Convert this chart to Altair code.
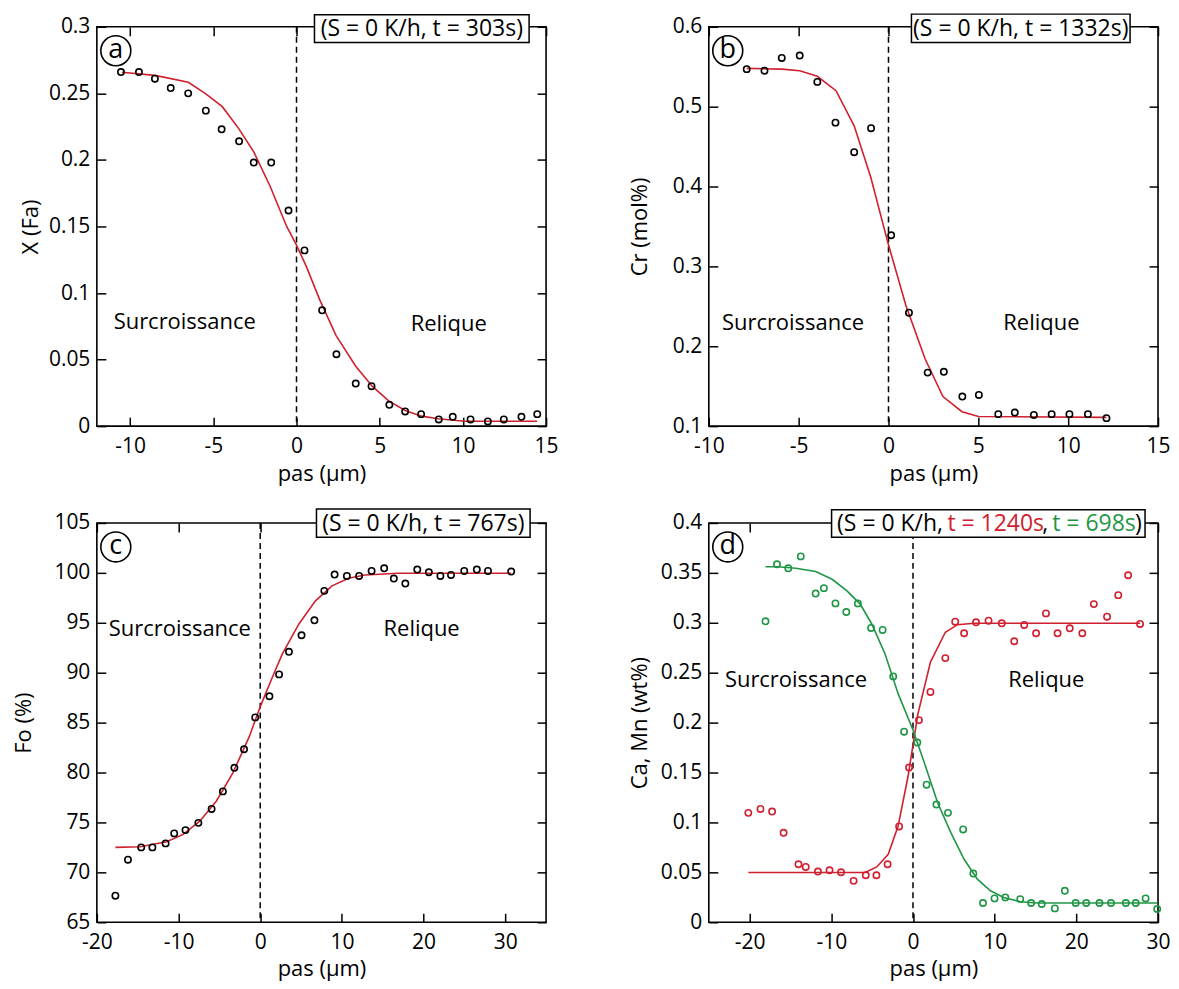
import altair as alt
import pandas as pd

# ---------------- data ----------------
# (a) X (Fa)
a_x = [-10.55, -9.47, -8.51, -7.56, -6.51, -5.45, -4.50, -3.45, -2.57, -1.52, -0.48, 0.48, 1.54,
       2.40, 3.56, 4.51, 5.58, 6.53, 7.49, 8.55, 9.39, 10.46, 11.50, 12.46, 13.52, 14.47]
a_y = [0.266, 0.266, 0.261, 0.254, 0.250, 0.237, 0.223, 0.214, 0.198, 0.198, 0.162, 0.132, 0.087,
       0.054, 0.032, 0.030, 0.016, 0.011, 0.009, 0.005, 0.007, 0.005, 0.0035, 0.005, 0.007, 0.009]
a_fx = [-10.5, -8.5, -6.5, -5.45, -4.46, -3.47, -2.57, -1.58, -0.59, 0.0, 0.59, 1.39, 2.38, 3.56,
        4.55, 5.54, 6.53, 7.52, 8.5, 10.1, 14.46]
a_fy = [0.2658, 0.2635, 0.2583, 0.2496, 0.240, 0.2235, 0.206, 0.180, 0.150, 0.136, 0.120, 0.095,
        0.068, 0.045, 0.030, 0.019, 0.0117, 0.0075, 0.0055, 0.0037, 0.0037]

# (b) Cr (mol%)
b_x = [-7.89, -6.90, -5.94, -4.94, -3.96, -2.95, -1.91, -0.97, 0.15, 1.14, 2.18, 3.08, 4.11, 5.03,
       6.11, 7.03, 8.09, 9.08, 10.07, 11.10, 12.13]
b_y = [0.547, 0.545, 0.561, 0.564, 0.531, 0.480, 0.443, 0.473, 0.339, 0.242, 0.167, 0.168, 0.137,
       0.139, 0.115, 0.117, 0.114, 0.115, 0.115, 0.115, 0.110]
b_fx = [-7.89, -5.94, -4.94, -3.96, -2.92, -1.91, -0.99, 0.0, 0.97, 2.04, 3.03, 4.09, 5.01, 12.13]
b_fy = [0.548, 0.547, 0.545, 0.538, 0.520, 0.476, 0.412, 0.327, 0.251, 0.184, 0.137, 0.118, 0.112, 0.111]

# (c) Fo (%)
c_x = [-17.73, -16.19, -14.57, -13.20, -11.58, -10.53, -9.15, -7.57, -5.95, -4.57, -3.16, -1.98,
       -0.61, 1.13, 2.31, 3.52, 5.06, 6.64, 7.85, 9.11, 10.61, 12.11, 13.64, 15.18, 16.36, 17.77,
       19.23, 20.65, 22.06, 23.36, 24.98, 26.52, 27.89, 30.73]
c_y = [67.66, 71.27, 72.50, 72.50, 72.90, 73.90, 74.23, 74.96, 76.35, 78.11, 80.47, 82.33, 85.52,
       87.64, 89.83, 92.09, 93.75, 95.25, 98.20, 99.83, 99.69, 99.69, 100.19, 100.46, 99.43, 98.93,
       100.33, 100.06, 99.69, 99.79, 100.19, 100.33, 100.19, 100.13]
c_fx = [-17.73, -14.7, -11.46, -9.43, -7.4, -5.38, -3.36, -1.34, 0.0, 1.5, 2.71, 4.74, 6.76, 8.79,
        10.81, 12.83, 16.88, 30.73]
c_fy = [72.50, 72.57, 73.07, 73.80, 75.13, 77.12, 79.94, 83.59, 86.58, 89.57, 91.89, 94.88, 97.20,
        98.70, 99.46, 99.79, 99.96, 99.96]

# (d) Ca, Mn (wt%) - red series (t = 1240s)
dr_x = [-20.16, -18.67, -17.25, -15.84, -14.02, -13.13, -11.64, -10.22, -8.81, -7.27, -5.78, -4.48,
        -3.11, -1.70, -0.48, 0.73, 2.14, 3.96, 5.17, 6.26, 7.72, 9.25, 10.87, 12.40, 13.62, 15.07,
        16.28, 17.70, 19.19, 20.73, 22.14, 23.76, 25.13, 26.34, 27.80]
dr_y = [0.1096, 0.1135, 0.1109, 0.0896, 0.0581, 0.0554, 0.0508, 0.0521, 0.0501, 0.0415, 0.0471,
        0.0471, 0.0581, 0.0960, 0.155, 0.2025, 0.2307, 0.2646, 0.3011, 0.2895, 0.3005, 0.3021,
        0.2995, 0.2815, 0.2978, 0.2895, 0.3094, 0.2895, 0.2945, 0.2895, 0.3187, 0.3061, 0.3277,
        0.3476, 0.2988]
dr_fx = [-20.16, -5.86, -4.44, -3.03, -1.82, -0.61, 0.61, 2.14, 3.96, 5.45, 7.47, 27.8]
dr_fy = [0.0498, 0.0498, 0.0554, 0.068, 0.0963, 0.146, 0.209, 0.2606, 0.2905, 0.2981, 0.2995, 0.2995]

# (d) green series (t = 698s)
dg_x = [-18.06, -16.65, -15.27, -13.74, -11.92, -10.91, -9.49, -8.16, -6.75, -5.13, -3.72, -2.42,
        -1.09, 0.53, 1.66, 2.87, 4.28, 6.14, 7.39, 8.57, 9.98, 11.31, 13.13, 14.46, 15.76, 17.37,
        18.59, 19.92, 21.21, 22.83, 24.24, 26.06, 27.27, 28.48, 29.90]
dg_y = [0.3015, 0.3586, 0.3546, 0.3665, 0.3293, 0.3347, 0.3194, 0.3108, 0.3194, 0.2948, 0.2928,
        0.2463, 0.1909, 0.180, 0.1378, 0.1179, 0.1096, 0.093, 0.0488, 0.0193, 0.0239, 0.0249, 0.0232,
        0.0193, 0.0183, 0.0139, 0.0315, 0.0193, 0.0193, 0.0193, 0.0193, 0.0193, 0.0193, 0.0239, 0.0133]
dg_fx = [-18.06, -16.57, -14.34, -11.92, -9.9, -8.08, -6.46, -5.05, -3.43, -1.82, 0.0, 1.41, 3.03,
         4.65, 6.26, 7.88, 9.49, 11.11, 13.13, 15.15, 29.9]
dg_fy = [0.3562, 0.3562, 0.3546, 0.3513, 0.3436, 0.332, 0.3187, 0.2988, 0.269, 0.229, 0.1926,
         0.1594, 0.1195, 0.0896, 0.0631, 0.0432, 0.0315, 0.0249, 0.0206, 0.0193, 0.0193]

# axis settings
a_xdom, a_xticks = [-12, 15], [-10, -5, 0, 5, 10, 15]
a_ydom, a_yticks = [0, 0.3], [0, 0.05, 0.1, 0.15, 0.2, 0.25, 0.3]
b_xdom, b_xticks = [-10, 15], [-10, -5, 0, 5, 10, 15]
b_ydom, b_yticks = [0.1, 0.6], [0.1, 0.2, 0.3, 0.4, 0.5, 0.6]
c_xdom, c_xticks = [-20, 35], [-20, -10, 0, 10, 20, 30]
c_ydom, c_yticks = [65, 105], [65, 70, 75, 80, 85, 90, 95, 100, 105]
d_xdom, d_xticks = [-25, 30], [-20, -10, 0, 10, 20, 30]
d_ydom, d_yticks = [0, 0.4], [0, 0.05, 0.1, 0.15, 0.2, 0.25, 0.3, 0.35, 0.4]

# region labels (data coords)
a_lab = {"s": (-10.99, 0.078), "r": (9.15, 0.077)}
b_lab = {"s": (-9.27, 0.229), "r": (8.51, 0.229)}
c_lab = {"s": (-18.54, 94.4), "r": (19.76, 94.4)}
d_lab = {"s": (-23.03, 0.243), "r": (16.32, 0.243)}

W, H = 450, 400
FONT = "Open Sans"
RED = "#d0202f"
GREEN = "#1f9646"
BLACK = "#000000"
FS = 22
BFS = 23
LABEL_EXPR = "'' + datum.value"


def inner_axes(xticks, yticks, kind):
    common = dict(labels=False, domain=False, ticks=True, tickSize=9, tickWidth=1.5,
                  tickColor="black", grid=False, title=None)
    if kind == "A":
        return (alt.Axis(orient="top", offset=-H, values=xticks, **common),
                alt.Axis(orient="right", offset=-W, values=yticks, **common))
    return (alt.Axis(orient="bottom", offset=-H, values=xticks, **common),
            alt.Axis(orient="left", offset=-W, values=yticks, **common))


def panel(xdom, xticks, ydom, yticks, ytitle, ytitle_x, xtitle_y, series, lab, letter, box, texts):
    xs = alt.Scale(domain=xdom, nice=False, zero=False)
    ys = alt.Scale(domain=ydom, nice=False, zero=False)
    xa_main = alt.Axis(orient="bottom", values=xticks, ticks=False, tickSize=0, domain=False,
                       labelPadding=9, labelFlush=False, labelOverlap=False, grid=False,
                       labelExpr=LABEL_EXPR,
                       labelFont=FONT, labelFontSize=21, labelColor="black",
                       title="pas (µm)", titleX=W / 2, titleY=xtitle_y, titleAlign="center",
                       titleBaseline="middle", titleFont=FONT, titleFontSize=FS,
                       titleFontWeight="normal", titleColor="black")
    ya_main = alt.Axis(orient="left", values=yticks, ticks=False, tickSize=0,
                       domain=False, labelPadding=7, labelFlush=False, labelOverlap=False,
                       labelExpr=LABEL_EXPR,
                       labelFont=FONT, labelFontSize=21, labelColor="black",
                       grid=False, title=ytitle, titleX=ytitle_x, titleY=H / 2,
                       titleAlign="center", titleBaseline="middle", titleAngle=270,
                       titleFont=FONT, titleFontSize=FS, titleFontWeight="normal",
                       titleColor="black")
    xin1, yin1 = inner_axes(xticks, yticks, "A")
    xin2, yin2 = inner_axes(xticks, yticks, "B")

    layers = []
    # dashed interface line at x = 0
    layers.append(alt.Chart(pd.DataFrame({"x": [0]})).mark_rule(
        color="black", strokeDash=[6, 4], strokeWidth=1.5).encode(
        x=alt.X("x:Q", scale=xs, axis=xin2), y=alt.value(0), y2=alt.value(H)))
    first = True
    for (px, py, fx, fy, col) in series:
        ldf = pd.DataFrame({"x": fx, "y": fy})
        pdf = pd.DataFrame({"x": px, "y": py})
        layers.append(alt.Chart(ldf).mark_line(color=RED if col == BLACK else col,
                                              strokeWidth=1.6).encode(
            x=alt.X("x:Q", scale=xs, axis=xin1 if first else None),
            y=alt.Y("y:Q", scale=ys, axis=yin1 if first else None)))
        layers.append(alt.Chart(pdf).mark_point(shape="circle", filled=False, color=col,
                                               size=40, strokeWidth=1.6, opacity=1).encode(
            x=alt.X("x:Q", scale=xs, axis=xa_main if first else None),
            y=alt.Y("y:Q", scale=ys, axis=ya_main if first else None)))
        first = False
    helper = alt.Chart(pd.DataFrame({"y": [ydom[0]]})).mark_point(opacity=0).encode(
        y=alt.Y("y:Q", scale=ys, axis=yin2), x=alt.value(0))
    layers.append(helper)

    # region labels
    tdf = pd.DataFrame({"x": [lab["s"][0], lab["r"][0]], "y": [lab["s"][1], lab["r"][1]],
                        "t": ["Surcroissance", "Relique"], "al": ["left", "center"]})
    layers.append(alt.Chart(tdf[tdf.al == "left"]).mark_text(
        font=FONT, fontSize=FS, align="left", baseline="middle", color="black").encode(
        x=alt.X("x:Q", scale=xs, axis=None), y=alt.Y("y:Q", scale=ys, axis=None), text="t:N"))
    layers.append(alt.Chart(tdf[tdf.al == "center"]).mark_text(
        font=FONT, fontSize=FS, align="center", baseline="middle", color="black").encode(
        x=alt.X("x:Q", scale=xs, axis=None), y=alt.Y("y:Q", scale=ys, axis=None), text="t:N"))

    one = pd.DataFrame({"k": [0]})
    # circled letter
    layers.append(alt.Chart(one).mark_point(shape="circle", filled=False, color="black",
                                            size=900, strokeWidth=1.6, opacity=1).encode(
        x=alt.value(19), y=alt.value(24)))
    layers.append(alt.Chart(one).mark_text(font=FONT, fontSize=27, align="center",
                                           baseline="middle", color="black", dy=-1).encode(
        x=alt.value(19), y=alt.value(24), text=alt.value(letter)))
    # boxed condition label
    bx0, bx1, by0, by1 = box
    layers.append(alt.Chart(one).mark_rect(fill="white", stroke="black", strokeWidth=1.5).encode(
        x=alt.value(bx0), x2=alt.value(bx1), y=alt.value(by0), y2=alt.value(by1)))
    for (txt, tx, al, col) in texts:
        layers.append(alt.Chart(one).mark_text(font=FONT, fontSize=BFS, align=al,
                                               baseline="middle", color=col).encode(
            x=alt.value(tx), y=alt.value((by0 + by1) / 2 + 0.5), text=alt.value(txt)))

    return alt.layer(*layers).resolve_axis(x="independent", y="independent").properties(
        width=W, height=H)


pa = panel(a_xdom, a_xticks, a_ydom, a_yticks, "X (Fa)", -66, 47,
           [(a_x, a_y, a_fx, a_fy, BLACK)], a_lab, "a", (218, 433, -12, 15.7),
           [("(S = 0 K/h, t = 303s)", 325.5, "center", "black")])
pb = panel(b_xdom, b_xticks, b_ydom, b_yticks, "Cr (mol%)", -69, 47,
           [(b_x, b_y, b_fx, b_fy, BLACK)], b_lab, "b", (203, 422, -12.7, 15.7),
           [("(S = 0 K/h, t = 1332s)", 312.5, "center", "black")])
pc = panel(c_xdom, c_xticks, c_ydom, c_yticks, "Fo (%)", -73, 46,
           [(c_x, c_y, c_fx, c_fy, BLACK)], c_lab, "c", (220, 434, -14, 14.3),
           [("(S = 0 K/h, t = 767s)", 327, "center", "black")])
pd_ = panel(d_xdom, d_xticks, d_ydom, d_yticks, "Ca, Mn (wt%)", -69, 46,
            [(dr_x, dr_y, dr_fx, dr_fy, RED), (dg_x, dg_y, dg_fx, dg_fy, GREEN)], d_lab, "d",
            (123, 437, -13.3, 14.3),
            [("(S = 0 K/h,", 128.5, "left", "black"), ("t = 1240s", 239, "left", RED),
             (",", 334, "left", "black"), ("t = 698s", 344, "left", GREEN),
             (")", 427, "left", "black")])

chart = alt.concat(pa, pb, pc, pd_, columns=2, spacing={"row": 97, "column": 163},
                   bounds="flush",
                   padding={"left": 4, "top": 3, "right": 0, "bottom": 0}).configure(
    background="white").configure_view(stroke="black", strokeWidth=1.6)

chart.save("out.html", embed_options={"renderer": "svg", "actions": False})
